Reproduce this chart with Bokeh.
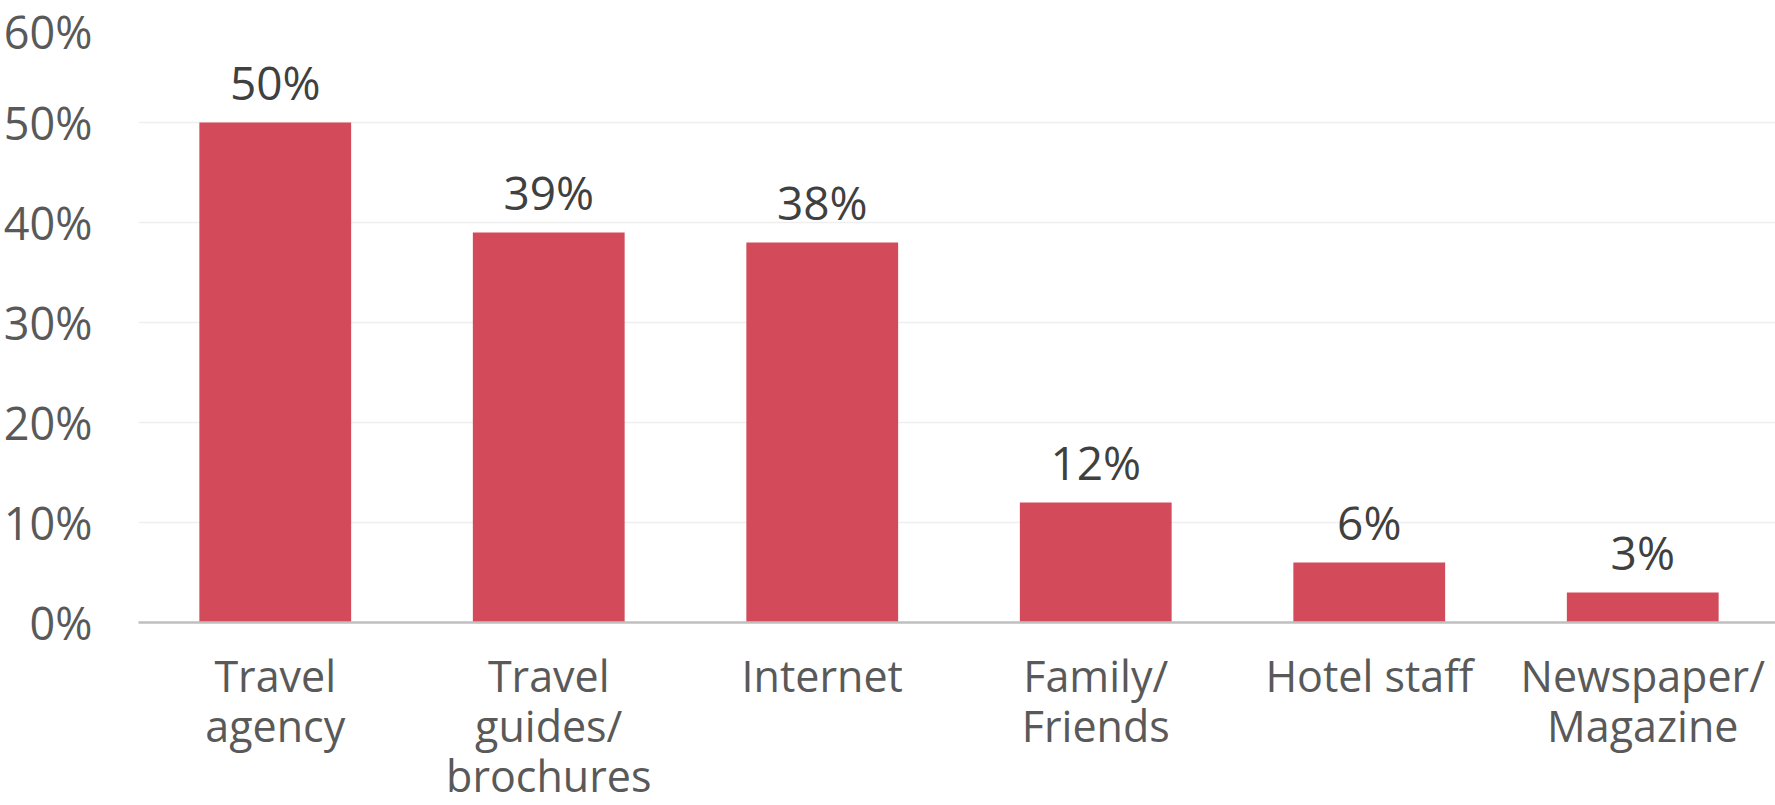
from bokeh.plotting import figure
from bokeh.models import ColumnDataSource, NumeralTickFormatter, FixedTicker, Range1d, FactorRange
from bokeh.core.properties import value
from bokeh.embed import file_html
from bokeh.resources import INLINE

categories = ["Travel\nagency", "Travel\nguides/\nbrochures", "Internet", "Family/\nFriends", "Hotel staff", "Newspaper/\nMagazine"]
shares = [0.50, 0.39, 0.38, 0.12, 0.06, 0.03]
share_labels = ["50%", "39%", "38%", "12%", "6%", "3%"]
y_ticks = [0, 0.1, 0.2, 0.3, 0.4, 0.5, 0.6]

FONT = "Open Sans"

src = ColumnDataSource(dict(cat=categories, val=shares, lab=share_labels))

p = figure(x_range=FactorRange(*categories), y_range=Range1d(0, 0.6),
           width=1779, height=807, output_backend="svg", toolbar_location=None,
           min_border_left=130, min_border_right=0, min_border_top=22, min_border_bottom=170)
p.outline_line_color = None
p.background_fill_color = "white"
p.border_fill_color = "white"

p.vbar(x="cat", top="val", width=0.555, source=src, fill_color="#D34B5A", line_color=None)

p.text(x="cat", y="val", text="lab", source=src, y_offset=-41,
       text_align="center", text_baseline="middle",
       text_font=value(FONT), text_font_size="46px", text_color="#404040")

p.yaxis.ticker = FixedTicker(ticks=y_ticks)
p.yaxis.formatter = NumeralTickFormatter(format="0%")
p.yaxis.axis_line_color = None
p.yaxis.major_tick_line_color = None
p.yaxis.minor_tick_line_color = None
p.yaxis.major_label_standoff = 40
p.yaxis.major_label_text_font = FONT
p.yaxis.major_label_text_font_size = "45px"
p.yaxis.major_label_text_color = "#595959"

p.xaxis.axis_line_color = "#BFBFBF"
p.xaxis.axis_line_width = 2.5
p.xaxis.major_tick_line_color = None
p.xaxis.minor_tick_line_color = None
p.xaxis.major_label_standoff = 17
p.xaxis.major_label_text_font = FONT
p.xaxis.major_label_text_font_size = "43px"
p.xaxis.major_label_text_color = "#595959"
p.xaxis.major_label_text_line_height = 0.85

p.xgrid.grid_line_color = None
p.ygrid.grid_line_color = "#EFEFEF"
p.ygrid.grid_line_width = 1.5

open("out.html", "w").write(file_html(p, INLINE))
